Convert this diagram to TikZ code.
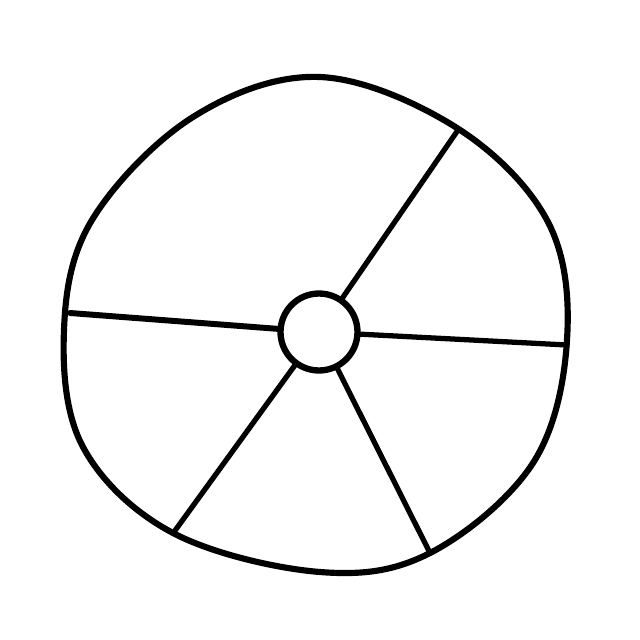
\documentclass[tikz,border=0pt]{standalone}
\begin{document}
\begin{tikzpicture}[x=0.02cm,y=-0.02cm,line cap=round,line join=round]
            \useasboundingbox (0,0) rectangle (640,640);

            \draw[line width=3.5pt] plot[smooth cycle,tension=0.6] coordinates {
                (320,77) (457,128) (548,222) (567,340) (533,463) (430,553)
                (320,572) (173,533) (83,447) (64,330) (92,220) (193,117)};

            \coordinate (ur) at (458,130);
            \coordinate (l) at (70,313);
            \coordinate (r) at (567,345);
            \coordinate (ll) at (174,532);
            \coordinate (lr) at (430,553);

            \node[draw,circle,line width=3.6pt,inner sep=0,outer sep=0,minimum size=1.54cm] (hub) at (319,332) {};

            \draw[line width=3pt] (hub) -- (ur);
            \draw[line width=3.4pt] (hub) -- (l);
            \draw[line width=3pt] (hub) -- (r);
            \draw[line width=3pt] (hub) -- (ll);
            \draw[line width=3pt] (hub) -- (lr);
        \end{tikzpicture}
\end{document}
